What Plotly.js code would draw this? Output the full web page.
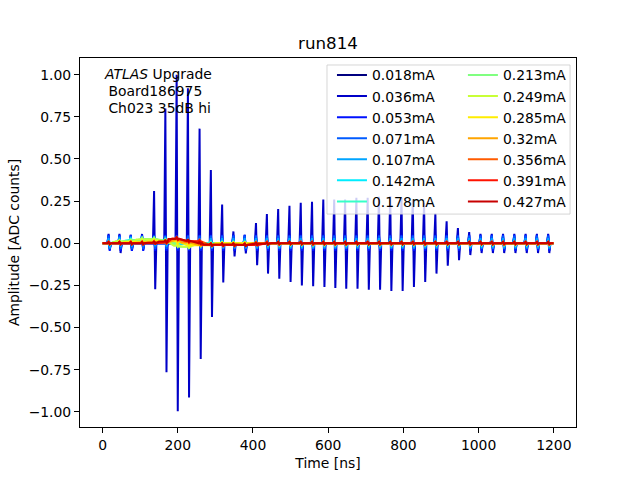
<!DOCTYPE html>
<html>
<head>
<meta charset="utf-8">
<script src="https://cdn.plot.ly/plotly-3.0.1.min.js"></script>
<style>
  html, body { margin: 0; padding: 0; background: #fff; }
  #chart { width: 640px; height: 480px; }
</style>
</head>
<body>
<div id="chart"></div>
<script>
// Pulse train positions [ns]
const spikeT = [16, 45, 75, 105, 137, 167, 197, 227, 258, 288, 318, 348, 378, 408, 437, 467, 497, 527, 557, 587,
  616, 645, 675, 705, 735, 765, 795, 825, 855, 885, 915, 945, 975, 1005, 1035, 1065, 1095, 1125, 1155, 1185];

// 0.036mA carries the big bipolar pulses
const upMain = [0.056, 0.056, 0.05, 0.055, 0.31, 0.80, 1.0, 0.92, 0.68, 0.434, 0.23, 0.07, 0.05, 0.12, 0.173, 0.203, 0.223, 0.24, 0.246, 0.26,
  0.26, 0.26, 0.27, 0.27, 0.276, 0.28, 0.27, 0.26, 0.24, 0.177, 0.13, 0.09, 0.066, 0.056, 0.056, 0.056, 0.056, 0.056, 0.056, 0.056];
const downMain = [-0.038, -0.058, -0.044, -0.04, -0.273, -0.765, -0.996, -0.915, -0.687, -0.438, -0.232, -0.078, -0.06, -0.13, -0.18, -0.21, -0.23, -0.25, -0.255, -0.26,
  -0.265, -0.27, -0.27, -0.275, -0.275, -0.283, -0.283, -0.26, -0.23, -0.18, -0.133, -0.10, -0.07, -0.058, -0.058, -0.058, -0.058, -0.058, -0.058, -0.058];

const labels = ['0.018mA', '0.036mA', '0.053mA', '0.071mA', '0.107mA', '0.142mA', '0.178mA',
  '0.213mA', '0.249mA', '0.285mA', '0.32mA', '0.356mA', '0.391mA', '0.427mA'];
const colors = ['#000080', '#0000c8', '#0012ff', '#005bff', '#00a4ff', '#00edff', '#36ffc8',
  '#80ff80', '#c8ff36', '#ffed00', '#ffa400', '#ff5b00', '#ff1200', '#c80000'];

// pulse heights per current (single value = roughly the same on every pulse)
const spikeUp = [0.03, upMain, 0.05, 0.045, 0.03, 0.015, 0.01, 0.008, 0.006, 0.006, 0.006, 0.008, 0.008, 0.01];
const spikeDown = [-0.03, downMain, -0.045, -0.035, -0.03, -0.015, -0.01, -0.008, -0.006, -0.006, -0.006, -0.006, -0.006, -0.005];

// slow baseline shape per current: times [ns] and levels
const baseT = [
  [0, 1199],
  [0, 1199],
  [0, 1199],
  [0, 1199],
  [0, 40, 100, 150, 200, 1199],
  [0, 30, 60, 100, 140, 165, 190, 220, 1199],
  [0, 30, 70, 120, 150, 175, 200, 230, 1199],
  [0, 35, 80, 130, 160, 185, 205, 240, 1199],
  [0, 40, 90, 140, 165, 190, 215, 250, 300, 1199],
  [0, 60, 120, 170, 200, 240, 300, 1199],
  [0, 100, 170, 210, 250, 330, 400, 1199],
  [0, 130, 180, 220, 260, 340, 400, 1199],
  [0, 140, 185, 225, 265, 350, 410, 1199],
  [0, 120, 150, 175, 200, 225, 250, 270, 350, 400, 450, 1199],
];
const baseV = [
  [0, 0],
  [0, 0],
  [0, 0],
  [0, 0],
  [0, 0.008, 0.012, 0.01, 0, 0],
  [0, 0.005, 0.015, 0.02, 0.02, 0.01, -0.005, 0, 0],
  [0, 0.008, 0.02, 0.022, 0.018, 0.005, -0.01, 0, 0],
  [0, 0.01, 0.025, 0.025, 0.015, -0.005, -0.02, -0.005, 0],
  [0, 0.01, 0.022, 0.02, 0.01, -0.015, -0.02, -0.005, 0, 0],
  [0, 0.008, 0.012, 0.01, -0.01, -0.012, 0, 0],
  [0, 0.005, 0.02, 0.005, -0.01, -0.008, 0, 0],
  [0, 0.005, 0.025, 0.01, -0.01, -0.01, 0, 0],
  [0, 0.005, 0.028, 0.012, -0.01, -0.01, 0, 0],
  [0, 0.003, 0.01, 0.025, 0.028, 0.015, 0, -0.008, -0.01, -0.003, 0, 0],
];

const infoLines = ['<i>ATLAS</i> Upgrade', '&nbsp;Board186975', '&nbsp;Ch023 35dB hi'];

// level held from the last baseline point at or before t
function heldLevel(bt, bv, t) {
  let v = bv[0];
  for (let i = 0; i < bt.length; i++) if (bt[i] <= t) v = bv[i];
  return v;
}

function buildSeries(i) {
  const bt = baseT[i], bv = baseV[i];
  const pts = bt.map((t, j) => [t, bv[j]]);
  spikeT.forEach((t, k) => {
    const up = Array.isArray(spikeUp[i]) ? spikeUp[i][k] : spikeUp[i];
    const dn = Array.isArray(spikeDown[i]) ? spikeDown[i][k] : spikeDown[i];
    const lv = heldLevel(bt, bv, t);
    pts.push([t - 3, lv], [t, lv + up], [t + 3, lv + dn], [t + 6, lv]);
  });
  pts.sort((a, b) => a[0] - b[0]);
  return { x: pts.map(p => p[0]), y: pts.map(p => p[1]) };
}

const FONT = 'DejaVu Sans, Liberation Sans, sans-serif';

const traces = labels.map((name, i) => {
  const s = buildSeries(i);
  return {
    x: s.x, y: s.y, type: 'scatter', mode: 'lines', name,
    line: { color: colors[i], width: 2 },
    legend: i < 7 ? 'legend' : 'legend2',
  };
});

const legendCommon = {
  bgcolor: 'rgba(0,0,0,0)', borderwidth: 0,
  font: { family: FONT, size: 13.9, color: '#000' },
  xanchor: 'left', yanchor: 'top', y: 0.996,
  orientation: 'v', traceorder: 'normal',
};

// three text lines placed one by one (matplotlib line pitch ~17px)
const annotations = infoLines.map((txt, j) => ({
  xref: 'paper', yref: 'paper', x: 0.044, y: (427 - 74 - 17 * j) / 369,
  xanchor: 'left', yanchor: 'middle', align: 'left', showarrow: false,
  text: txt, font: { family: FONT, size: 13.9, color: '#000' },
}));

const layout = {
  width: 640, height: 480,
  margin: { l: 80, r: 64, t: 58, b: 53 },
  paper_bgcolor: '#fff', plot_bgcolor: '#fff',
  font: { family: FONT, size: 13.9, color: '#000' },
  title: { text: 'run814', x: 0.5, xref: 'paper', y: 1 - 43 / 480, yanchor: 'middle', font: { family: FONT, size: 16.7, color: '#000' } },
  showlegend: true,
  legend: Object.assign({}, legendCommon, { x: 0.508 }),
  legend2: Object.assign({}, legendCommon, { x: 0.772 }),
  hovermode: false,
  xaxis: {
    range: [-60, 1259], tickvals: [0, 200, 400, 600, 800, 1000, 1200],
    showgrid: false, zeroline: false,
    showline: true, mirror: true, linecolor: '#000', linewidth: 1,
    ticks: 'outside', ticklen: 5, tickwidth: 1, tickcolor: '#000',
    tickfont: { family: FONT, size: 13.9, color: '#000' },
    title: { text: 'Time [ns]', standoff: 6, font: { family: FONT, size: 13.9, color: '#000' } },
  },
  yaxis: {
    range: [-1.09, 1.099], tickvals: [-1, -0.75, -0.5, -0.25, 0, 0.25, 0.5, 0.75, 1], tickformat: '.2f',
    showgrid: false, zeroline: false,
    showline: true, mirror: true, linecolor: '#000', linewidth: 1,
    ticks: 'outside', ticklen: 5, tickwidth: 1, tickcolor: '#000',
    tickfont: { family: FONT, size: 13.9, color: '#000' },
    title: { text: 'Amplitude [ADC counts]', standoff: 5, font: { family: FONT, size: 13.9, color: '#000' } },
  },
  shapes: [{
    type: 'rect', xref: 'paper', yref: 'paper', layer: 'above',
    x0: 0.498, x1: 0.988, y0: 0.577, y1: 0.981,
    fillcolor: 'rgba(255,255,255,0.8)', line: { color: 'rgba(204,204,204,0.8)', width: 1 },
  }],
  annotations,
};

Plotly.newPlot('chart', traces, layout, { displayModeBar: false, staticPlot: true });
</script>
</body>
</html>
